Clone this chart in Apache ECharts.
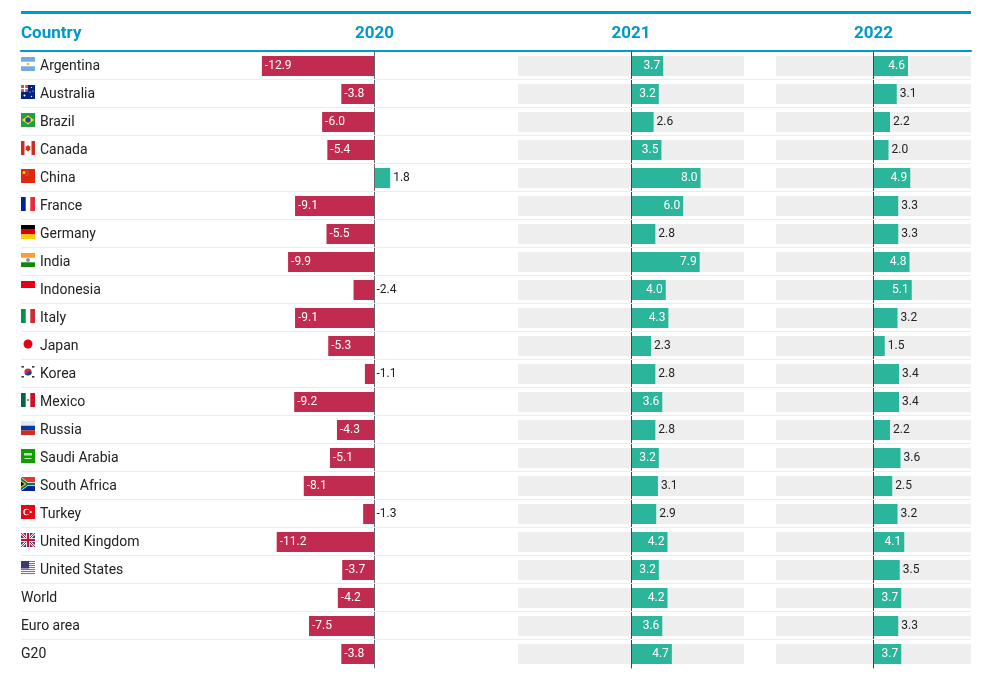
<!DOCTYPE html>
<html><head><meta charset="utf-8">
<style>html,body{margin:0;background:#fff}#c{width:985px;height:674px}</style>
<script src="https://cdn.jsdelivr.net/npm/echarts@6/dist/echarts.min.js"></script>
</head><body><div id="c"></div>
<script>
const countries = ["Argentina","Australia","Brazil","Canada","China","France","Germany","India","Indonesia","Italy","Japan","Korea","Mexico","Russia","Saudi Arabia","South Africa","Turkey","United Kingdom","United States","World","Euro area","G20"];
const years = ["2020","2021","2022"];
const values2020 = [-12.9,-3.8,-6.0,-5.4,1.8,-9.1,-5.5,-9.9,-2.4,-9.1,-5.3,-1.1,-9.2,-4.3,-5.1,-8.1,-1.3,-11.2,-3.7,-4.2,-7.5,-3.8];
const values2021 = [3.7,3.2,2.6,3.5,8.0,6.0,2.8,7.9,4.0,4.3,2.3,2.8,3.6,2.8,3.2,3.1,2.9,4.2,3.2,4.2,3.6,4.7];
const values2022 = [4.6,3.1,2.2,2.0,4.9,3.3,3.3,4.8,5.1,3.2,1.5,3.4,3.4,2.2,3.6,2.5,3.2,4.1,3.5,3.7,3.3,3.7];
const insideMin = [3, 3.2, 3.7];

const RED = "#c12b4f", GREEN = "#2bb59a", BLUE = "#0099cc", INK = "#222", GREY = "#eeeeee";
const r = (x,y,w,h,c)=>`<rect x="${x}" y="${y}" width="${w}" height="${h}" fill="${c}"/>`;
const c = (x,y,rd,f)=>`<circle cx="${x}" cy="${y}" r="${rd}" fill="${f}"/>`;
const flagArt = {
  "Argentina": r(0,0,14,14,"#fff")+r(0,0,14,4.7,"#74acdf")+r(0,9.3,14,4.7,"#74acdf")+c(7,7,1.2,"#f6b40e"),
  "Australia": r(0,0,14,14,"#00247d")+r(0,0,7,7,"#c8505f")+r(3,0,1.2,7,"#fff")+r(0,3,7,1.2,"#fff")+c(3.5,10.5,1,"#fff")+c(10.5,2.5,.6,"#fff")+c(12,6,.6,"#fff")+c(9,7,.6,"#fff")+c(10.5,11.5,.7,"#fff"),
  "Brazil": r(0,0,14,14,"#229e45")+`<path d="M7 2.4L13 7 7 11.6 1 7Z" fill="#f8e509"/>`+c(7,7,2.7,"#2b49a3"),
  "Canada": r(0,0,14,14,"#fff")+r(0,0,3.5,14,"#d52b1e")+r(10.5,0,3.5,14,"#d52b1e")+`<path d="M7 3.5L8 5.5 9.5 5 9 8 10 8 7 10.5 4 8 5 8 4.5 5 6 5.5Z" fill="#d52b1e"/>`,
  "China": r(0,0,14,14,"#de2910")+c(3,3.5,1.6,"#ffde00")+c(6,1.6,.45,"#ffde00")+c(7,3,.45,"#ffde00")+c(7,5,.45,"#ffde00")+c(6,6.4,.45,"#ffde00"),
  "France": r(0,0,14,14,"#fff")+r(0,0,4.7,14,"#002395")+r(9.3,0,4.7,14,"#ed2939"),
  "Germany": r(0,0,14,4.7,"#000")+r(0,4.7,14,4.7,"#dd0000")+r(0,9.3,14,4.7,"#ffce00"),
  "India": r(0,0,14,14,"#fff")+r(0,0,14,4.7,"#ff9933")+r(0,9.3,14,4.7,"#138808")+c(7,7,1.9,"#8a8ac8"),
  "Indonesia": r(0,0,14,7,"#e70011"),
  "Italy": r(0,0,14,14,"#fff")+r(0,0,4.7,14,"#009246")+r(9.3,0,4.7,14,"#ce2b37"),
  "Japan": c(7,7,4.5,"#e60012"),
  "Korea": c(7,7,3.6,"#cd2e3a")+`<path d="M3.6 7.6a3.6 3.6 0 0 0 7 0a1.8 1.8 0 0 0-3.5 0a1.8 1.8 0 0 1-3.5 0Z" fill="#0047a0"/>`+r(.5,1,2.4,1.6,"#333")+r(11,1,2.4,1.6,"#333")+r(.5,11,2.4,1.6,"#333")+r(11,11,2.4,1.6,"#333"),
  "Mexico": r(0,0,14,14,"#fff")+r(0,0,4.7,14,"#006847")+r(9.3,0,4.7,14,"#ce1126")+c(7,7,1.3,"#a5907a"),
  "Russia": r(0,0,14,4.7,"#e6e9f2")+r(0,4.7,14,4.7,"#0039a6")+r(0,9.3,14,4.7,"#d52b1e"),
  "Saudi Arabia": r(0,0,14,14,"#149d00")+r(3,4,8,2.5,"#bfe8b5")+r(3.5,9,7,1,"#bfe8b5"),
  "South Africa": r(0,0,14,7,"#de3831")+r(0,7,14,7,"#002395")+`<path d="M0 0L7 7 0 14Z" fill="#000"/><path d="M0 0L7 5.2H14V8.8H7L0 14V11.5L4.5 7 0 2.5Z" fill="#fff"/><path d="M0 .8L7 6H14V8H7L0 13.2V11L5 7 0 3Z" fill="#007a4d"/><path d="M0 3L5 7 0 11Z" fill="#ffb612"/><path d="M0 4.5L3.2 7 0 9.5Z" fill="#000"/>`,
  "Turkey": r(0,0,14,14,"#e30a17")+c(5.5,7,3.2,"#fff")+c(6.3,7,2.6,"#e30a17")+c(9.8,7,1.1,"#fff"),
  "United Kingdom": r(0,0,14,14,"#3d3f7f")+`<path d="M0 0L14 14M14 0L0 14" stroke="#fff" stroke-width="2.6"/><path d="M0 0L14 14M14 0L0 14" stroke="#c8102e" stroke-width="1"/>`+r(5,0,4,14,"#fff")+r(0,5,14,4,"#fff")+r(5.9,0,2.2,14,"#c8102e")+r(0,5.9,14,2.2,"#c8102e"),
  "United States": r(0,0,14,14,"#fff")+[0,2,4,6,8,10,12].map(y=>r(0,y+.0,14,1.05,"#c4546a")).join("")+r(0,0,8,7.5,"#3c3b6e")
};
const flagSymbol = name => "image://data:image/svg+xml;charset=utf-8," + encodeURIComponent(
  `<svg xmlns="http://www.w3.org/2000/svg" width="56" height="56" viewBox="0 0 14 14">${flagArt[name]}</svg>`);

const fontFamily = "Roboto";
const rowGrid = {left:21, width:950, top:51, height:616};
const panelTop = 52, panelHeight = 616;
const panels = [{left:261,width:227},{left:518,width:226},{left:776,width:195}];
const panelValues = [values2020, values2021, values2022];

function barItem(v, minInside){
  const inside = Math.abs(v) >= minInside;
  return {
    value: v,
    itemStyle: {color: v < 0 ? RED : GREEN},
    label: {
      position: inside ? (v < 0 ? "insideLeft" : "insideRight") : "right",
      distance: inside ? 3 : (v < 0 ? 2 : 3),
      color: inside ? "#fff" : INK
    }
  };
}

const grids = [rowGrid].concat(panels.map(p=>({left:p.left,width:p.width,top:panelTop,height:panelHeight})));
const xAxes = [{
  gridIndex:0, type:"value", min:0, max:950, position:"top",
  axisLine:{show:true,onZero:false,lineStyle:{color:BLUE,width:2}},
  axisTick:{show:false}, axisLabel:{show:false}, splitLine:{show:false}
}].concat(panels.map((p,i)=>({
  gridIndex:i+1, type:"value", min:-13, max:13, position:"top",
  name:years[i], nameLocation:"middle", nameGap:10,
  nameTextStyle:{color:BLUE,fontFamily,fontSize:17,fontWeight:"bold"},
  axisLine:{show:false}, axisTick:{show:false}, axisLabel:{show:false}, splitLine:{show:false}
})));
const yAxes = [{
  gridIndex:0, type:"category", inverse:true, data:countries, z:6,
  axisLine:{show:false}, axisTick:{show:false},
  splitLine:{show:true,showMinLine:false,showMaxLine:false,lineStyle:{color:"#ececec",width:1}},
  axisLabel:{
    inside:true, margin:0, align:"left", verticalAlign:"middle", interval:0,
    formatter:n=> flagArt[n] ? `{f|${n}}` : `{n|${n}}`,
    rich:{
      f:{fontFamily,fontSize:14,color:INK,padding:[2,0,0,19]},
      n:{fontFamily,fontSize:14,color:INK,padding:[2,0,0,0]}
    }
  }
}].concat(panels.map((p,i)=>({
  gridIndex:i+1, type:"category", inverse:true, data:countries, z:5,
  axisLine:{show:true,onZero:true,lineStyle:{color:i===0?"#666":"#444",width:1}},
  axisTick:{show:false}, axisLabel:{show:false}, splitLine:{show:false}
})));
const series = [{
  type:"scatter", xAxisIndex:0, yAxisIndex:0, silent:true, clip:false,
  symbolSize:14, symbolOffset:["50%",-1], itemStyle:{opacity:1},
  data:countries.filter(n=>flagArt[n]).map(n=>({value:[0,n],symbol:flagSymbol(n)}))
}].concat(panelValues.map((vals,i)=>({
  type:"bar", xAxisIndex:i+1, yAxisIndex:i+1, barWidth:20,
  showBackground:i>0, backgroundStyle:{color:GREY},
  label:{show:true,fontFamily,fontSize:12,formatter:p=>p.value.toFixed(1)},
  data:vals.map(v=>barItem(v,insideMin[i]))
})));

const chart = echarts.init(document.getElementById("c"),null,{renderer:"canvas"});
chart.setOption({
  animation:false, backgroundColor:"#fff", textStyle:{fontFamily},
  title:{text:"Country",left:21,top:25,padding:0,textStyle:{color:BLUE,fontFamily,fontSize:17,fontWeight:"bold",lineHeight:18}},
  graphic:[{type:"rect",shape:{x:21,y:11,width:950,height:3},style:{fill:BLUE},silent:true}],
  grid:grids, xAxis:xAxes, yAxis:yAxes, series
});
</script></body></html>
